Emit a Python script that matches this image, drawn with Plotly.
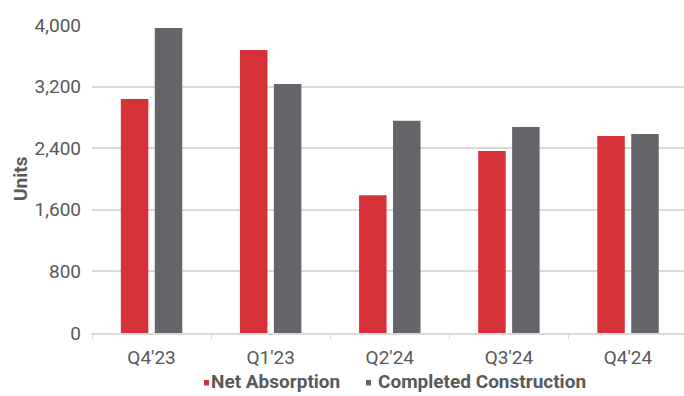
import plotly.graph_objects as go

# Quarterly multifamily supply vs. demand (units)
quarters = ["Q4'23", "Q1'23", "Q2'24", "Q3'24", "Q4'24"]
net_absorption = [3040, 3675, 1790, 2365, 2560]
completed_construction = [3960, 3235, 2755, 2675, 2585]
y_ticks = [0, 800, 1600, 2400, 3200, 4000]

RED = "#d63039"
GRAY = "#646469"
TEXT = "#595959"
GRID = "#d9d9d9"

W, H = 684, 396
L, R, T, B = 92, 0, 25, 63

fig = go.Figure()
fig.add_trace(go.Bar(x=quarters, y=net_absorption, name="Net Absorption",
                     marker=dict(color=RED, line=dict(width=0)), showlegend=False))
fig.add_trace(go.Bar(x=quarters, y=completed_construction, name="Completed Construction",
                     marker=dict(color=GRAY, line=dict(width=0)), showlegend=False))


def px_x(px):
    return (px - L) / (W - L - R)


def px_y(py):
    return (H - B - py) / (H - T - B)


BOLD = dict(family="Roboto, sans-serif", color=TEXT, weight="bold")

# Compact legend: small square keys drawn right beside the labels
legend_items = [("Net Absorption", RED, 204, 209), ("Completed Construction", GRAY, 366, 376)]
shapes = []
annotations = []
for label, color, key_x, text_x in legend_items:
    shapes.append(dict(type="rect", xref="paper", yref="paper",
                       x0=px_x(key_x), x1=px_x(key_x + 5),
                       y0=px_y(385.5), y1=px_y(380),
                       fillcolor=color, line=dict(width=0)))
    annotations.append(dict(text=label, xref="paper", yref="paper",
                            x=px_x(text_x), y=px_y(381.5), xanchor="left", yanchor="middle",
                            showarrow=False, font=dict(size=19, **BOLD)))

# Rotated y-axis title
annotations.append(dict(text="Units", xref="paper", yref="paper",
                        x=px_x(20), y=0.5, xanchor="center", yanchor="middle",
                        textangle=-90, showarrow=False, font=dict(size=19, **BOLD)))

fig.update_layout(
    width=W, height=H,
    margin=dict(l=L, r=R, t=T, b=B, pad=0),
    paper_bgcolor="white", plot_bgcolor="white",
    barmode="group", bargap=0.43, bargroupgap=0.19,
    showlegend=False,
    shapes=shapes, annotations=annotations,
    font=dict(family="Roboto, sans-serif", color=TEXT),
)
fig.update_xaxes(
    range=[-0.5, 4.47], tickfont=dict(size=19, color=TEXT),
    showline=True, linecolor=GRID, linewidth=2,
    ticks="outside", tickson="boundaries", ticklen=4, tickcolor=GRID, tickwidth=1,
    ticklabelstandoff=6, showgrid=False,
)
fig.update_yaxes(
    range=[0, 4000], tickvals=y_ticks, tickformat=",",
    tickfont=dict(size=19, color=TEXT),
    showgrid=True, gridcolor=GRID, gridwidth=2, zeroline=False,
    ticklabelstandoff=10,
)

fig.write_html("out.html")
